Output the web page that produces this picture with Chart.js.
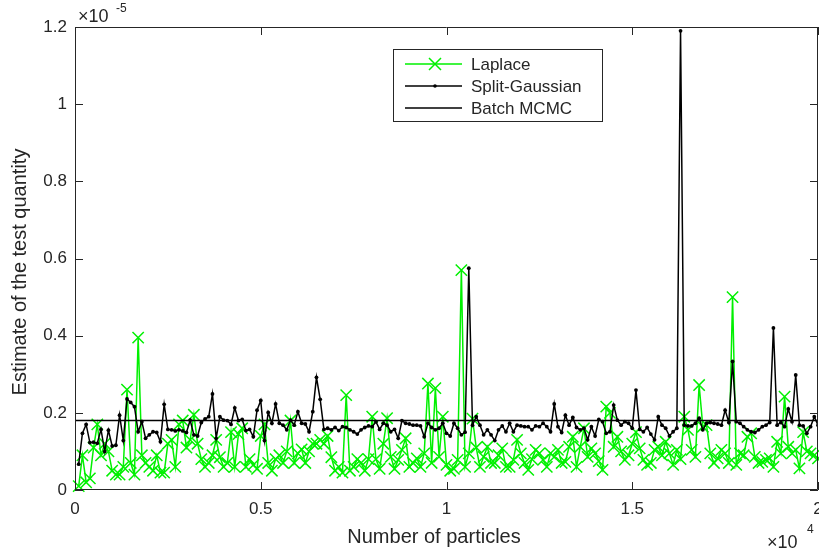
<!DOCTYPE html>
<html>
<head>
<meta charset="utf-8">
<title>Estimate of the test quantity</title>
<script src="https://cdn.jsdelivr.net/npm/chart.js@4.4.0/dist/chart.umd.min.js"></script>
<style>
  html, body { margin: 0; padding: 0; background: #fff; }
  #wrap { width: 819px; height: 551px; }
</style>
</head>
<body>
<div id="wrap"><canvas id="chart" width="819" height="551"></canvas></div>
<script>
// values in units of 1e-5, one per 100 particles (100 ... 20000)
const laplace = [
  0.01, 0.09, 0.02, 0.03, 0.11, 0.17, 0.09, 0.12, 0.10, 0.05,
  0.04, 0.04, 0.06, 0.26, 0.07, 0.04, 0.395, 0.09, 0.07, 0.06,
  0.05, 0.09, 0.045, 0.045, 0.12, 0.13, 0.06, 0.17, 0.18, 0.11,
  0.13, 0.195, 0.12, 0.08, 0.06, 0.07, 0.09, 0.13, 0.085, 0.06,
  0.07, 0.15, 0.06, 0.145, 0.16, 0.06, 0.08, 0.065, 0.055, 0.14,
  0.17, 0.07, 0.05, 0.08, 0.09, 0.07, 0.10, 0.18, 0.07, 0.095,
  0.105, 0.07, 0.10, 0.12, 0.12, 0.13, 0.12, 0.14, 0.085, 0.05,
  0.06, 0.045, 0.246, 0.05, 0.06, 0.08, 0.07, 0.05, 0.08, 0.19,
  0.08, 0.055, 0.12, 0.186, 0.086, 0.055, 0.078, 0.104, 0.134, 0.06,
  0.07, 0.082, 0.06, 0.095, 0.276, 0.07, 0.264, 0.086, 0.19, 0.065,
  0.05, 0.055, 0.078, 0.57, 0.06, 0.095, 0.185, 0.11, 0.06, 0.086,
  0.112, 0.07, 0.07, 0.09, 0.108, 0.06, 0.06, 0.078, 0.13, 0.095,
  0.07, 0.052, 0.08, 0.104, 0.095, 0.078, 0.06, 0.095, 0.086, 0.104,
  0.07, 0.073, 0.112, 0.138, 0.06, 0.112, 0.16, 0.086, 0.108, 0.095,
  0.075, 0.052, 0.216, 0.2, 0.112, 0.138, 0.1, 0.078, 0.09, 0.12,
  0.15, 0.108, 0.078, 0.065, 0.07, 0.104, 0.112, 0.09, 0.125, 0.095,
  0.065, 0.104, 0.08, 0.19, 0.156, 0.104, 0.086, 0.272, 0.164, 0.168,
  0.095, 0.07, 0.082, 0.104, 0.095, 0.07, 0.50, 0.065, 0.095, 0.09,
  0.138, 0.147, 0.086, 0.07, 0.073, 0.078, 0.082, 0.06, 0.125, 0.095,
  0.242, 0.112, 0.095, 0.104, 0.056, 0.15, 0.1, 0.095, 0.09, 0.082
];

const splitGaussian = [
  0.067, 0.147, 0.17, 0.123, 0.124, 0.121, 0.157, 0.10, 0.155, 0.114,
  0.116, 0.194, 0.128, 0.236, 0.227, 0.216, 0.151, 0.177, 0.134, 0.143,
  0.151, 0.149, 0.125, 0.222, 0.157, 0.156, 0.153, 0.156, 0.153, 0.149,
  0.181, 0.143, 0.14, 0.175, 0.184, 0.19, 0.249, 0.134, 0.19, 0.181,
  0.18, 0.17, 0.213, 0.18, 0.183, 0.154, 0.157, 0.138, 0.207, 0.232,
  0.128, 0.201, 0.173, 0.223, 0.173, 0.168, 0.156, 0.181, 0.168, 0.203,
  0.173, 0.171, 0.151, 0.203, 0.292, 0.235, 0.157, 0.16, 0.156, 0.162,
  0.154, 0.164, 0.162, 0.156, 0.151, 0.145, 0.156, 0.162, 0.166, 0.164,
  0.177, 0.157, 0.173, 0.168, 0.151, 0.157, 0.134, 0.18, 0.173, 0.171,
  0.168, 0.168, 0.166, 0.138, 0.173, 0.162, 0.156, 0.16, 0.173, 0.147,
  0.14, 0.173, 0.16, 0.143, 0.15, 0.575, 0.168, 0.19, 0.168, 0.143,
  0.156, 0.143, 0.128, 0.156, 0.166, 0.151, 0.173, 0.151, 0.168, 0.166,
  0.164, 0.164, 0.156, 0.166, 0.164, 0.173, 0.164, 0.151, 0.223, 0.164,
  0.149, 0.194, 0.168, 0.188, 0.162, 0.156, 0.16, 0.13, 0.164, 0.14,
  0.183, 0.177, 0.147, 0.151, 0.22, 0.181, 0.168, 0.177, 0.173, 0.16,
  0.259, 0.157, 0.151, 0.162, 0.145, 0.13, 0.19, 0.168, 0.16, 0.14,
  0.151, 0.16, 1.19, 0.168, 0.166, 0.166, 0.173, 0.186, 0.156, 0.173,
  0.175, 0.173, 0.171, 0.168, 0.207, 0.175, 0.333, 0.177, 0.173, 0.164,
  0.156, 0.151, 0.149, 0.156, 0.164, 0.168, 0.175, 0.42, 0.168, 0.175,
  0.164, 0.21, 0.177, 0.298, 0.168, 0.166, 0.147, 0.164, 0.19, 0.168
];

const batchMcmc = 0.18;
const xTicks = [0, 5000, 10000, 15000, 20000];
const yTicks = [0, 0.2, 0.4, 0.6, 0.8, 1, 1.2];

const particles = laplace.map((_, i) => (i + 1) * 100);
const font = "'Liberation Sans', Arial, Helvetica, sans-serif";
const axisColor = '#262626';
const green = 'rgb(0,240,0)';

const frame = {
  id: 'frame',
  afterDatasetsDraw(chart) {
    const { ctx, chartArea: a, scales: { x, y } } = chart;
    ctx.save();
    ctx.strokeStyle = axisColor;
    ctx.lineWidth = 1;
    ctx.beginPath();
    ctx.rect(a.left + 0.5, a.top + 0.5, a.right - a.left - 1, a.bottom - a.top - 1);
    xTicks.forEach(t => {
      const px = Math.round(x.getPixelForValue(t)) + 0.5;
      ctx.moveTo(px, a.bottom); ctx.lineTo(px, a.bottom - 8);
      ctx.moveTo(px, a.top); ctx.lineTo(px, a.top + 8);
    });
    yTicks.forEach(t => {
      const py = Math.round(y.getPixelForValue(t)) + 0.5;
      ctx.moveTo(a.left, py); ctx.lineTo(a.left + 8, py);
      ctx.moveTo(a.right, py); ctx.lineTo(a.right - 8, py);
    });
    ctx.stroke();
    ctx.restore();
  },
  afterDraw(chart) {
    const { ctx } = chart;
    ctx.save();
    ctx.fillStyle = axisColor;

    // axis titles
    ctx.font = '20px ' + font;
    ctx.textAlign = 'center';
    ctx.textBaseline = 'middle';
    ctx.fillText('Number of particles', 434, 537);
    ctx.save();
    ctx.translate(20, 272);
    ctx.rotate(-Math.PI / 2);
    ctx.fillText('Estimate of the test quantity', 0, 0);
    ctx.restore();

    // exponents
    ctx.textAlign = 'left';
    ctx.textBaseline = 'alphabetic';
    ctx.font = '18px ' + font;
    ctx.fillText('\u00d710', 78, 22);
    ctx.fillText('\u00d710', 767, 548);
    ctx.font = '12px ' + font;
    ctx.fillText('-5', 116, 12);
    ctx.fillText('4', 807, 533);

    // legend
    const lx = 393.5, ly = 49.5, lw = 209, lh = 72;
    ctx.fillStyle = '#fff';
    ctx.fillRect(lx, ly, lw, lh);
    ctx.strokeStyle = axisColor;
    ctx.lineWidth = 1;
    ctx.strokeRect(lx, ly, lw, lh);
    const rows = [
      { label: 'Laplace', color: green, marker: 'x' },
      { label: 'Split-Gaussian', color: '#000', marker: 'dot' },
      { label: 'Batch MCMC', color: '#000', marker: null }
    ];
    ctx.font = '17px ' + font;
    ctx.textBaseline = 'middle';
    rows.forEach((r, i) => {
      const yy = 64 + i * 22;
      ctx.strokeStyle = r.color;
      ctx.lineWidth = 1.5;
      ctx.beginPath();
      ctx.moveTo(405, yy); ctx.lineTo(462, yy);
      ctx.stroke();
      if (r.marker === 'x') {
        ctx.beginPath();
        ctx.moveTo(429, yy - 6); ctx.lineTo(441, yy + 6);
        ctx.moveTo(429, yy + 6); ctx.lineTo(441, yy - 6);
        ctx.stroke();
      } else if (r.marker === 'dot') {
        ctx.fillStyle = r.color;
        ctx.beginPath();
        ctx.arc(435, yy, 1.8, 0, Math.PI * 2);
        ctx.fill();
      }
      ctx.fillStyle = axisColor;
      ctx.fillText(r.label, 471, yy + 1);
    });
    ctx.restore();
  }
};

const ctx = document.getElementById('chart').getContext('2d');
new Chart(ctx, {
  type: 'line',
  data: {
    datasets: [
      {
        label: 'Laplace',
        data: particles.map((p, i) => ({ x: p, y: laplace[i] })),
        borderColor: green,
        backgroundColor: green,
        borderWidth: 1.5,
        pointStyle: 'crossRot',
        pointRadius: 8,
        pointBorderWidth: 1.5,
        pointBorderColor: green,
        tension: 0,
        clip: false,
        order: 3
      },
      {
        label: 'Split-Gaussian',
        data: particles.map((p, i) => ({ x: p, y: splitGaussian[i] })),
        borderColor: '#000',
        backgroundColor: '#000',
        borderWidth: 1.5,
        pointRadius: 1.9,
        pointBorderWidth: 0,
        tension: 0,
        order: 2
      },
      {
        label: 'Batch MCMC',
        data: [{ x: 0, y: batchMcmc }, { x: 20000, y: batchMcmc }],
        borderColor: '#000',
        borderWidth: 1.5,
        pointRadius: 0,
        order: 1
      }
    ]
  },
  options: {
    responsive: false,
    animation: false,
    devicePixelRatio: 1,
    layout: { autoPadding: false, padding: { left: 0, right: 1, top: 27, bottom: 0 } },
    plugins: { legend: { display: false }, tooltip: { enabled: false } },
    scales: {
      x: {
        type: 'linear',
        min: 0,
        max: 20000,
        afterFit: s => { s.height = 61; s.paddingLeft = 0; s.paddingRight = 0; },
        afterBuildTicks: s => { s.ticks = xTicks.map(v => ({ value: v })); },
        grid: { display: false, drawTicks: false },
        border: { display: false },
        ticks: {
          autoSkip: false,
          maxRotation: 0,
          padding: 9,
          color: axisColor,
          font: { family: font, size: 17 },
          callback: v => String(v / 10000)
        }
      },
      y: {
        min: 0,
        max: 1.2,
        afterFit: s => { s.width = 75; s.paddingTop = 0; s.paddingBottom = 0; },
        afterBuildTicks: s => { s.ticks = yTicks.map(v => ({ value: v })); },
        grid: { display: false, drawTicks: false },
        border: { display: false },
        ticks: {
          autoSkip: false,
          padding: 8,
          color: axisColor,
          font: { family: font, size: 17 },
          callback: v => String(v)
        }
      }
    }
  },
  plugins: [frame]
});
</script>
</body>
</html>
